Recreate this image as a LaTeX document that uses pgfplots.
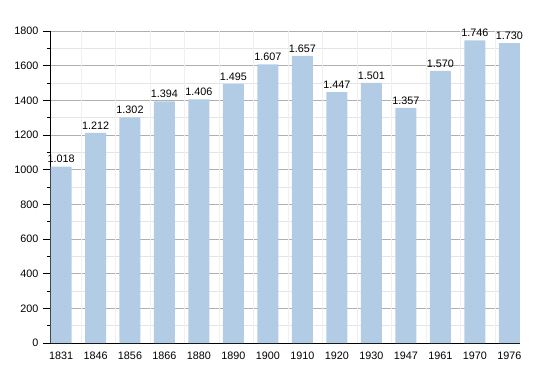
\documentclass[border=0pt]{standalone}
\usepackage{fontspec}
\setmainfont{Liberation Sans}
\usepackage{pgfplots}
\pgfplotsset{compat=1.18}
\definecolor{barblue}{RGB}{179,204,230}
\definecolor{majgrid}{RGB}{175,175,175}
\definecolor{mingrid}{RGB}{228,228,228}
\begin{document}
\begin{tikzpicture}
\path[use as bounding box] (-50pt,-30pt) rectangle (500pt,343pt);
\begin{axis}[
  scale only axis,
  width=470pt, height=312pt,
  at={(0pt,0pt)}, anchor=south west,
  ymin=0, ymax=1800,
  xmin=-0.32, xmax=13.31,
  ytick={0,200,...,1800},
  minor ytick={100,300,...,1700},
  xtick=data,
  xticklabels={1831,1846,1856,1866,1880,1890,1900,1910,1920,1930,1947,1961,1970,1976},
  extra x ticks={0.58,1.58,...,12.58},
  extra x tick labels={},
  extra x tick style={grid=major, major grid style={color=black!6, line width=0.5pt}, tick style={draw=none}},
  ymajorgrids, yminorgrids,
  major grid style={majgrid, line width=0.6pt},
  minor grid style={mingrid, line width=0.5pt},
  axis x line*=bottom, axis y line*=left,
  axis line style={black, line width=0.8pt, -},
  x axis line style={shorten <=-5pt},
  ytick style={black, line width=0.6pt},
  xtick style={draw=none},
  tick align=outside,
  major tick length=7pt,
  minor tick length=3pt,
  tick label style={font=\fontsize{10.8}{12}\selectfont, text=black},
  yticklabel style={xshift=-1pt},
  xticklabel style={yshift=2pt},
  /pgf/number format/assume math mode=true,
  yticklabel={\pgfmathprintnumber[1000 sep={}]{\tick}},
  ybar, bar width=21pt,
  nodes near coords,
  nodes near coords style={font=\fontsize{10.8}{12}\selectfont, text=black, /pgf/number format/1000 sep={.}, /pgf/number format/assume math mode=true, yshift=0pt},
  clip=false,
]
\addplot[fill=barblue, draw=none] coordinates {
(0,1018) (1,1212) (2,1302) (3,1394) (4,1406) (5,1495) (6,1607)
(7,1657) (8,1447) (9,1501) (10,1357) (11,1570) (12,1746) (13,1730)};
\end{axis}
\end{tikzpicture}
\end{document}
